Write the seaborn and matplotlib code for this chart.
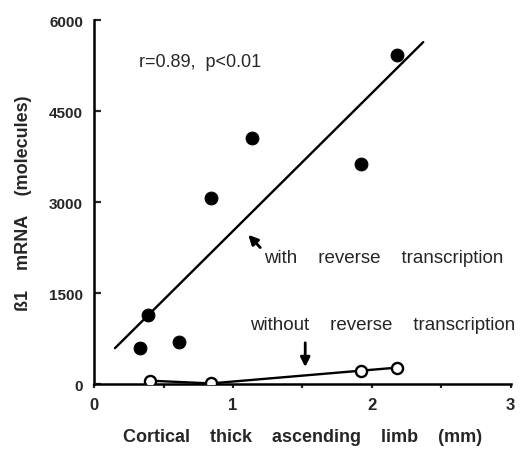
import numpy as np
import pandas as pd
import matplotlib
matplotlib.use("Agg")
import matplotlib.pyplot as plt
import seaborn as sns

# 逆転写あり (黒丸)
rt_length = [0.33, 0.39, 0.61, 0.84, 1.14, 1.92, 2.18]
rt_mrna = [600, 1130, 700, 3070, 4060, 3620, 5420]

# 逆転写なし (白丸)
no_rt_length = [0.40, 0.84, 1.92, 2.18]
no_rt_mrna = [55, 10, 220, 270]

# 回帰直線を描く範囲
fit_range = [0.15, 2.37]

x_ticks = [0, 1, 2, 3]
y_ticks = [0, 1500, 3000, 4500, 6000]


def main():
    sns.set_theme(style="white")
    plt.rcParams['font.family'] = ['Liberation Sans', 'DejaVu Sans']

    fig = plt.figure(figsize=(5.32, 4.6), dpi=100)
    ax = fig.add_axes([0.177, 0.163, 0.783, 0.791])

    df_rt = pd.DataFrame({'length': rt_length, 'mrna': rt_mrna})
    df_no = pd.DataFrame({'length': no_rt_length, 'mrna': no_rt_mrna})

    # 回帰直線
    slope, intercept = np.polyfit(rt_length, rt_mrna, 1)
    fx = np.array(fit_range)
    sns.lineplot(x=fx, y=slope * fx + intercept, ax=ax, color='black', lw=1.7)

    sns.scatterplot(data=df_rt, x='length', y='mrna', ax=ax, color='black',
                    s=85, edgecolor='black', zorder=3)
    sns.lineplot(data=df_no, x='length', y='mrna', ax=ax, color='black', lw=1.7,
                 marker='o', markersize=8, markerfacecolor='white',
                 markeredgecolor='black', markeredgewidth=1.7, zorder=4)

    ax.set_xlim(0, 3)
    ax.set_ylim(0, 6000)
    ax.set_xticks(x_ticks)
    ax.set_xticks([0.5, 1.5, 2.5], minor=True)
    ax.set_yticks(y_ticks)
    ax.set_xticklabels([str(t) for t in x_ticks], fontsize=12, fontweight='bold')
    ax.set_yticklabels([str(t) for t in y_ticks], fontsize=11, fontweight='bold')
    ax.tick_params(axis='y', direction='in', length=5, width=1.6, left=True, pad=8)
    ax.tick_params(axis='x', which='both', direction='out', length=3, width=1.6,
                   bottom=True, pad=6)

    sns.despine(ax=ax)
    for side in ['left', 'bottom']:
        ax.spines[side].set_linewidth(1.8)
        ax.spines[side].set_color('black')

    ax.set_xlabel('Cortical    thick    ascending    limb    (mm)', fontsize=13,
                  fontweight='bold', labelpad=12)
    ax.set_ylabel('ß1    mRNA    (molecules)', fontsize=13, fontweight='bold',
                  labelpad=12)

    ax.text(0.32, 5250, 'r=0.89,  p<0.01', fontsize=13)

    ax.annotate('with    reverse    transcription', xy=(1.11, 2460),
                xytext=(1.22, 2080), fontsize=13.5, va='center', ha='left',
                arrowprops=dict(arrowstyle='-|>', color='black', lw=2,
                                shrinkA=0, shrinkB=0, mutation_scale=14,
                                relpos=(0.0, 0.9)))
    ax.annotate('', xy=(1.52, 280), xytext=(1.52, 680),
                arrowprops=dict(arrowstyle='-|>', color='black', lw=2,
                                shrinkA=0, shrinkB=0, mutation_scale=14))
    ax.text(1.12, 980, 'without    reverse    transcription', fontsize=13.5,
            va='center', ha='left')

    fig.savefig('out.png', dpi=100)
    plt.close(fig)


if __name__ == "__main__":
    main()
